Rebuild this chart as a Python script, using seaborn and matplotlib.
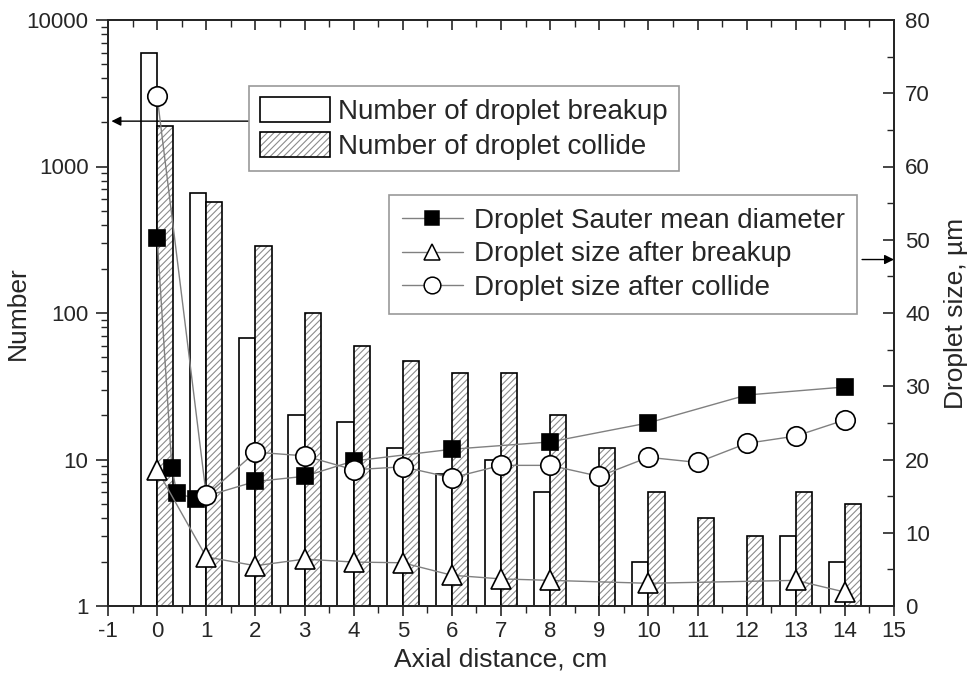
import numpy as np
import pandas as pd
import matplotlib
matplotlib.use("Agg")
import matplotlib.pyplot as plt
from matplotlib.lines import Line2D
from matplotlib.patches import Patch
from matplotlib.ticker import FixedLocator, MultipleLocator, NullFormatter, LogLocator
import seaborn as sns

# ---------------- data ----------------
bar_x = [0, 1, 2, 3, 4, 5, 6, 7, 8, 9, 10, 11, 12, 13, 14]
n_breakup = [6000, 660, 68, 20, 18, 12, 8, 10, 6, np.nan, 2, np.nan, np.nan, 3, 2]
n_collide = [1880, 570, 285, 100, 60, 47, 39, 39, 20, 12, 6, 4, 3, 6, 5]

smd_x = [0, 0.3, 0.4, 0.8, 2, 3, 4, 6, 8, 10, 12, 14]
smd_y = [50.3, 18.9, 15.4, 14.6, 17.0, 17.7, 19.8, 21.4, 22.4, 25.0, 28.8, 29.9]

brk_x = [0, 1, 2, 3, 4, 5, 6, 7, 8, 10, 13, 14]
brk_y = [18.6, 6.7, 5.5, 6.4, 6.0, 5.9, 4.2, 3.7, 3.5, 3.1, 3.5, 1.9]

col_x = [0, 1, 2, 3, 4, 5, 6, 7, 8, 9, 10, 11, 12, 13, 14]
col_y = [69.6, 15.1, 21.0, 20.5, 18.6, 19.0, 17.5, 19.2, 19.2, 17.7, 20.3, 19.6, 22.2, 23.2, 25.4]

lbl_breakup = "Number of droplet breakup"
lbl_collide = "Number of droplet collide"
lbl_smd = "Droplet Sauter mean diameter"
lbl_brk = "Droplet size after breakup"
lbl_col = "Droplet size after collide"

# ---------------- style ----------------
sns.set_style("ticks")
plt.rcParams["font.family"] = ["Liberation Sans", "DejaVu Sans"]
plt.rcParams["axes.linewidth"] = 1.4
plt.rcParams["hatch.linewidth"] = 0.8

fig = plt.figure(figsize=(9.72, 6.86), dpi=100)
ax = fig.add_axes([108 / 972, 1 - 606 / 686, (894 - 108) / 972, (606 - 20) / 686])

df = pd.DataFrame({
    "x": bar_x * 2,
    "n": n_breakup + n_collide,
    "kind": [lbl_breakup] * len(bar_x) + [lbl_collide] * len(bar_x),
}).dropna()

sns.barplot(data=df, x="x", y="n", hue="kind", hue_order=[lbl_breakup, lbl_collide],
            native_scale=True, dodge=True, width=0.66, ax=ax, legend=False,
            errorbar=None)
ax.set_yscale("log", nonpositive="clip")

gray = (0.55, 0.55, 0.55, 1.0)
for cont, hatched in zip(ax.containers, [False, True]):
    for p in cont:
        p.set_facecolor("white")
        p.set_edgecolor("black")
        p.set_linewidth(1.2)
        if hatched:
            p.set_hatch("/////")
            p._hatch_color = gray

ax.set_xlim(-1, 15)
ax.set_ylim(1, 10000)
ax.yaxis.set_major_locator(FixedLocator([1, 10, 100, 1000, 10000]))
ax.yaxis.set_minor_locator(LogLocator(base=10, subs=np.arange(2, 10), numticks=20))
ax.set_yticklabels(["1", "10", "100", "1000", "10000"])
ax.yaxis.set_minor_formatter(NullFormatter())
ax.set_xticks(range(-1, 16))
ax.set_xticklabels([str(v) for v in range(-1, 16)])
ax.xaxis.set_minor_locator(MultipleLocator(0.5))

ax.tick_params(axis="y", which="major", direction="out", length=9, width=1.2, labelsize=16, left=True, right=False, pad=5)
ax.tick_params(axis="y", which="minor", direction="out", length=5, width=1.0, left=True, right=False)
ax.tick_params(axis="x", which="major", direction="inout", length=14, width=1.2, labelsize=16, top=True, bottom=True, pad=4)
ax.tick_params(axis="x", which="minor", direction="out", length=5, width=1.0, top=True, bottom=True)
for t in ax.xaxis.get_major_ticks():
    t.tick2line.set_marker(3)
    t.tick2line.set_markersize(7)
for t in ax.xaxis.get_minor_ticks():
    t.tick2line.set_marker(3)
    t.tick2line.set_markersize(5)

ax.set_xlabel("Axial distance, cm", fontsize=19, labelpad=4)
ax.set_ylabel("Number", fontsize=19)
ax.yaxis.set_label_coords(-0.099, 0.5)

# ---------------- right axis lines ----------------
ax2 = ax.twinx()
line_kw = dict(color="#808080", linewidth=1.0, markeredgecolor="black", markeredgewidth=1.2)
sns.lineplot(x=smd_x, y=smd_y, ax=ax2, marker="s", markersize=11, markerfacecolor="black", **line_kw)
sns.lineplot(x=brk_x, y=brk_y, ax=ax2, marker="^", markersize=15, markerfacecolor="white", **line_kw)
sns.lineplot(x=col_x, y=col_y, ax=ax2, marker="o", markersize=14, markerfacecolor="white", **line_kw)
ax2.set_ylim(0, 80)
ax2.set_xlim(-1, 15)
ax2.yaxis.set_major_locator(MultipleLocator(10))
ax2.yaxis.set_minor_locator(MultipleLocator(5))
ax2.tick_params(axis="y", which="major", direction="in", length=8, width=1.2, labelsize=16, pad=8)
ax2.tick_params(axis="y", which="minor", direction="in", length=5, width=1.0)
ax2.set_ylabel("Droplet size, µm", fontsize=19, labelpad=10)
for s in ax2.spines.values():
    s.set_linewidth(1.4)

# ---------------- legends ----------------
bar_handles = [
    Patch(facecolor="white", edgecolor="black", linewidth=1.2, label=lbl_breakup),
    Patch(facecolor="white", edgecolor="black", hatch="/////", linewidth=1.2, label=lbl_collide),
]
leg1 = ax2.legend(handles=bar_handles, loc="upper left", bbox_to_anchor=(249 / 972, 1 - 86 / 686),
                  bbox_transform=fig.transFigure, borderaxespad=0, fontsize=20, frameon=True,
                  fancybox=False, edgecolor="#999999", framealpha=1, handlelength=2.5, handleheight=1.0,
                  handletextpad=0.3, labelspacing=0.25, borderpad=0.4)
leg1.get_patches()[1]._hatch_color = gray
leg1.get_frame().set_linewidth(1.2)
ax2.add_artist(leg1)

mk = dict(color="#808080", linewidth=1.0, markeredgecolor="black", markeredgewidth=1.1)
line_handles = [
    Line2D([], [], marker="s", markersize=10, markerfacecolor="black", label=lbl_smd, **mk),
    Line2D([], [], marker="^", markersize=12, markerfacecolor="white", label=lbl_brk, **mk),
    Line2D([], [], marker="o", markersize=12, markerfacecolor="white", label=lbl_col, **mk),
]
leg2 = ax2.legend(handles=line_handles, loc="upper left", bbox_to_anchor=(389 / 972, 1 - 195 / 686),
                  bbox_transform=fig.transFigure, borderaxespad=0, fontsize=20, frameon=True,
                  fancybox=False, edgecolor="#999999", framealpha=1, handlelength=2.2,
                  handletextpad=0.4, labelspacing=0.28, borderpad=0.45)
leg2.get_frame().set_linewidth(1.2)

# ---------------- arrows ----------------
ax.annotate("", xy=(-0.93, 2040), xytext=(1.88, 2040),
            arrowprops=dict(arrowstyle="-|>", color="black", lw=1.0, mutation_scale=14,
                            shrinkA=0, shrinkB=0), annotation_clip=False)
ax2.annotate("", xy=(15.0, 47.3), xytext=(14.35, 47.3),
             arrowprops=dict(arrowstyle="-|>", color="black", lw=1.0, mutation_scale=14,
                             shrinkA=0, shrinkB=0), annotation_clip=False)

fig.savefig("out.png", dpi=100)
